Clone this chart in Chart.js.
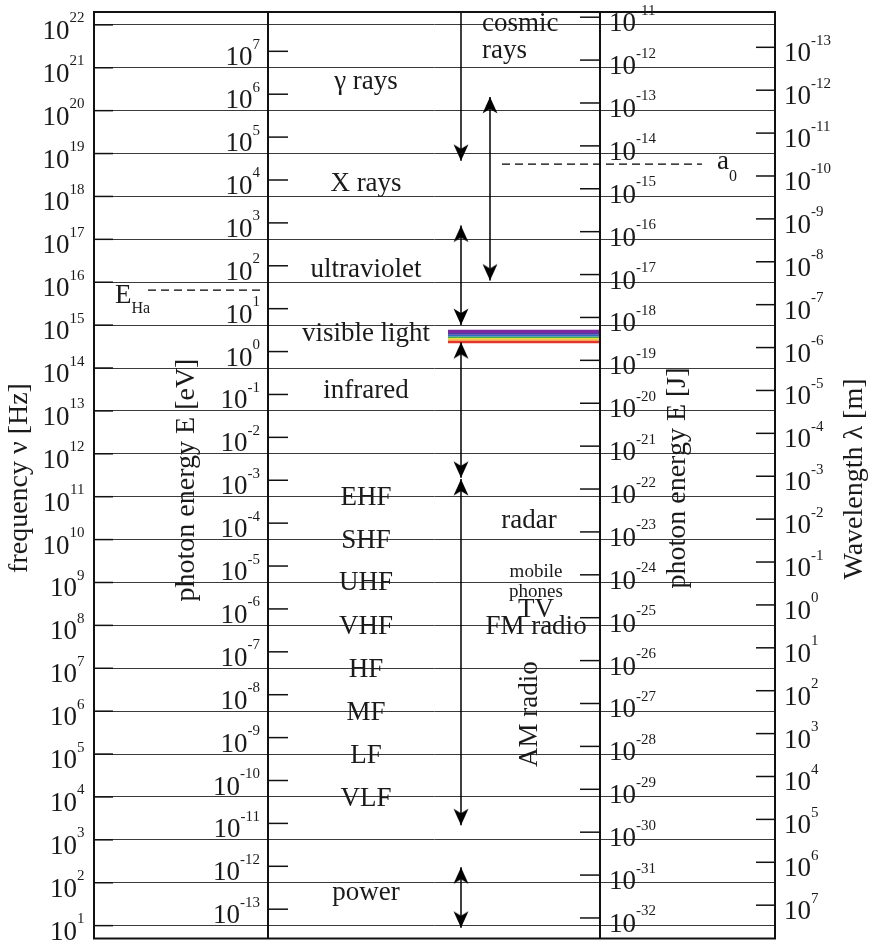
<!DOCTYPE html>
<html>
<head>
<meta charset="utf-8">
<script src="https://cdn.jsdelivr.net/npm/chart.js@4/dist/chart.umd.min.js"></script>
<style>
  html, body { margin: 0; padding: 0; background: #fff; }
  #c { display: block; }
</style>
</head>
<body>
<canvas id="c" width="872" height="948"></canvas>
<script>
// electromagnetic spectrum chart

// decades (log10) shown on each of the four axes
const freqExponents = [1, 2, 3, 4, 5, 6, 7, 8, 9, 10, 11, 12, 13, 14, 15, 16, 17, 18, 19, 20, 21, 22];
const eVExponents = [-13, -12, -11, -10, -9, -8, -7, -6, -5, -4, -3, -2, -1, 0, 1, 2, 3, 4, 5, 6, 7];
const jouleExponents = [-32, -31, -30, -29, -28, -27, -26, -25, -24, -23, -22, -21, -20, -19, -18, -17, -16, -15, -14, -13, -12, -11];
const wavelengthExponents = [-13, -12, -11, -10, -9, -8, -7, -6, -5, -4, -3, -2, -1, 0, 1, 2, 3, 4, 5, 6, 7];

// constants to put eV / J / metres onto the frequency scale
const PLANCK = 6.62607e-34;
const ELECTRON_VOLT = 1.602177e-19;
const LIGHT_SPEED = 2.99792458e8;
const logHzPerEV = Math.log10(ELECTRON_VOLT / PLANCK);
const logHzPerJ = -Math.log10(PLANCK);
const logC = Math.log10(LIGHT_SPEED);

// band names and where they sit (log10 Hz)
const bandNames = ['γ rays', 'X rays', 'ultraviolet', 'visible light', 'infrared', 'EHF', 'SHF', 'UHF', 'VHF', 'HF', 'MF', 'LF', 'VLF', 'power'];
const bandFreqs = [20.71, 18.32, 16.32, 14.84, 13.49, 11.0, 10.0, 9.02, 7.99, 6.99, 5.99, 4.99, 4.0, 1.80];

// uses / sources (log10 Hz)
const useNames = ['cosmic', 'rays', 'radar', 'mobile', 'phones', 'TV', 'FM radio', 'AM radio'];
const useFreqs = [22.07, 21.42, 10.47, 9.26, 8.80, 8.40, 7.99, 5.93];

// arrow ranges [upper end, lower end] in log10 Hz
const arrowRanges = [[22.3, 18.83], [20.32, 16.04], [17.32, 15.0], [14.6, 11.44], [11.41, 3.34], [2.36, 0.95]];
const arrowHasTop = [false, true, true, true, true, true];

// reference marks
const hartreeEV = 27.211;        // E_Ha
const bohrRadius = 5.29177e-11;  // a0 [m]

// visible light stripes, wavelength edges in nm (violet -> red)
const visibleEdgesNm = [385, 460, 500, 550, 600, 640, 690, 790];
const visibleColors = ['#7a2a9e', '#4b3ca8', '#2f6cc0', '#45ad4a', '#e6e13c', '#f29b2f', '#e3352a'];

// ---- layout (x in px from the left frame edge) ----
const SERIF = '"Liberation Serif", "Times New Roman", serif';
const COL = { ev: 174, joule: 506, band: 272 };
const arrowX = [367, 396, 367, 367, 367, 367];
const useX = [388, 388, 435, 442, 442, 442, 442, 436];
const useFont = [27, 27, 27, 19, 19, 27, 27, 27];
const visX = [354, 506];
const hartreeX = [54, 166];
const bohrX = [408, 608];

const logHartree = Math.log10(hartreeEV) + logHzPerEV;
const logBohr = logC - Math.log10(bohrRadius);
const nmToLogHz = nm => logC - Math.log10(nm * 1e-9);

// arrow head with its tip at the centre of the image
function makeArrowHead() {
  const c = document.createElement('canvas');
  c.width = 16; c.height = 36;
  const g = c.getContext('2d');
  g.fillStyle = '#000';
  g.beginPath();
  g.moveTo(8, 18);
  g.lineTo(15.5, 34.5);
  g.lineTo(8, 30);
  g.lineTo(0.5, 34.5);
  g.closePath();
  g.fill();
  return c;
}
const arrowHead = makeArrowHead();

const datasets = [];

arrowRanges.forEach((r, i) => {
  datasets.push({
    data: [{ x: arrowX[i], y: r[0] }, { x: arrowX[i], y: r[1] }],
    borderColor: '#000',
    borderWidth: 1.5,
    pointStyle: arrowHead,
    pointRotation: [0, 180],
    pointRadius: [arrowHasTop[i] ? 8 : 0, 8],
    fill: false
  });
});

[[hartreeX, logHartree], [bohrX, logBohr]].forEach(([xs, v]) => {
  datasets.push({
    data: [{ x: xs[0], y: v }, { x: xs[1], y: v }],
    borderColor: '#000',
    borderWidth: 1.3,
    borderDash: [8, 5],
    pointRadius: 0,
    fill: false
  });
});

visibleColors.forEach((col, i) => {
  const top = nmToLogHz(visibleEdgesNm[i]);
  const bottom = nmToLogHz(visibleEdgesNm[i + 1]);
  datasets.push({
    data: [{ x: visX[0], y: top }, { x: visX[1], y: top }],
    borderWidth: 0,
    borderColor: 'rgba(0,0,0,0)',
    backgroundColor: col,
    pointRadius: 0,
    fill: { value: bottom }
  });
});

function drawPower(ctx, exp, x, py, align) {
  const sup = String(exp);
  ctx.font = `27px ${SERIF}`;
  const wb = ctx.measureText('10').width;
  ctx.font = `15px ${SERIF}`;
  const ws = ctx.measureText(sup).width;
  const left = align === 'right' ? x - wb - ws : x;
  ctx.textAlign = 'left';
  ctx.textBaseline = 'alphabetic';
  ctx.font = `27px ${SERIF}`;
  ctx.fillText('10', left, py + 14);
  ctx.font = `15px ${SERIF}`;
  ctx.fillText(sup, left + wb, py - 2.5);
}

function rotatedText(ctx, text, x, y, size) {
  ctx.save();
  ctx.translate(x, y);
  ctx.rotate(-Math.PI / 2);
  ctx.font = `${size}px ${SERIF}`;
  ctx.textAlign = 'center';
  ctx.textBaseline = 'middle';
  ctx.fillText(text, 0, 0);
  ctx.restore();
}

const overlay = {
  id: 'overlay',
  afterDraw(chart) {
    const { ctx, chartArea: a, scales: { x, y } } = chart;
    ctx.save();
    ctx.strokeStyle = '#111';
    ctx.fillStyle = '#1a1a1a';

    const hline = (x0, x1, py, w) => {
      ctx.lineWidth = w;
      ctx.beginPath(); ctx.moveTo(x0, py); ctx.lineTo(x1, py); ctx.stroke();
    };
    const vline = (px, w) => {
      ctx.lineWidth = w;
      ctx.beginPath(); ctx.moveTo(px, a.top); ctx.lineTo(px, a.bottom); ctx.stroke();
    };

    // frame and the two inner axes
    ctx.lineWidth = 2;
    ctx.strokeRect(a.left, a.top, a.right - a.left, a.bottom - a.top);
    const xEV = x.getPixelForValue(COL.ev);
    const xJ = x.getPixelForValue(COL.joule);
    vline(xEV, 2);
    vline(xJ, 2);

    // frequency axis
    freqExponents.forEach(e => {
      const py = y.getPixelForValue(e);
      hline(a.left, a.left + 19, py, 1.5);
      drawPower(ctx, e, 84.5, py, 'right');
    });
    // photon energy in eV
    eVExponents.forEach(e => {
      const py = y.getPixelForValue(e + logHzPerEV);
      hline(xEV, xEV + 20, py, 1.5);
      drawPower(ctx, e, 260, py, 'right');
    });
    // photon energy in J
    jouleExponents.forEach(e => {
      const py = y.getPixelForValue(e + logHzPerJ);
      hline(xJ - 20, xJ, py, 1.5);
      drawPower(ctx, e, xJ + 9, py, 'left');
    });
    // wavelength
    wavelengthExponents.forEach(e => {
      const py = y.getPixelForValue(logC - e);
      hline(a.right - 19, a.right, py, 1.5);
      drawPower(ctx, e, a.right + 9, py, 'left');
    });

    // band labels
    ctx.textAlign = 'center';
    ctx.textBaseline = 'alphabetic';
    ctx.font = `27px ${SERIF}`;
    bandNames.forEach((name, i) => {
      ctx.fillText(name, x.getPixelForValue(COL.band), y.getPixelForValue(bandFreqs[i]) + 8.6);
    });

    // uses
    useNames.forEach((name, i) => {
      const px = x.getPixelForValue(useX[i]);
      const py = y.getPixelForValue(useFreqs[i]);
      if (name === 'AM radio') {
        rotatedText(ctx, name, px, py, useFont[i]);
        return;
      }
      ctx.font = `${useFont[i]}px ${SERIF}`;
      ctx.textAlign = i < 2 ? 'left' : 'center';
      ctx.textBaseline = 'alphabetic';
      ctx.fillText(name, px, py + useFont[i] * 0.32);
    });

    // E_Ha and a0 labels
    ctx.textAlign = 'left';
    let py = y.getPixelForValue(logHartree);
    ctx.font = `27px ${SERIF}`;
    ctx.fillText('E', a.left + 21, py + 12.7);
    const wE = ctx.measureText('E').width;
    ctx.font = `16px ${SERIF}`;
    ctx.fillText('Ha', a.left + 21 + wE, py + 22.5);

    py = y.getPixelForValue(logBohr);
    ctx.font = `27px ${SERIF}`;
    ctx.fillText('a', a.left + 623, py + 4.6);
    const wa = ctx.measureText('a').width;
    ctx.font = `16px ${SERIF}`;
    ctx.fillText('0', a.left + 623 + wa, py + 16.5);

    // axis titles
    rotatedText(ctx, 'frequency ν [Hz]', 19.5, 478, 28);
    rotatedText(ctx, 'photon energy E [eV]', 187, 480, 28);
    rotatedText(ctx, 'photon energy E [J]', 678, 478, 28);
    rotatedText(ctx, 'Wavelength λ [m]', 855, 479, 28);

    ctx.restore();
  }
};

new Chart(document.getElementById('c'), {
  type: 'line',
  data: { datasets },
  options: {
    responsive: false,
    animation: false,
    devicePixelRatio: 1,
    events: [],
    layout: { padding: { left: 94, right: 97, top: 12, bottom: 2 } },
    plugins: { legend: { display: false }, tooltip: { enabled: false } },
    elements: { line: { tension: 0 } },
    scales: {
      x: { type: 'linear', min: 0, max: 681, display: false },
      y: {
        type: 'linear',
        min: 0.7,
        max: 22.3,
        afterBuildTicks: s => { s.ticks = freqExponents.map(v => ({ value: v })); },
        afterFit: s => { s.width = 0; },
        ticks: { display: false },
        border: { display: false },
        grid: { color: '#3a3a3a', lineWidth: 1, drawTicks: false }
      }
    }
  },
  plugins: [overlay]
});
</script>
</body>
</html>
